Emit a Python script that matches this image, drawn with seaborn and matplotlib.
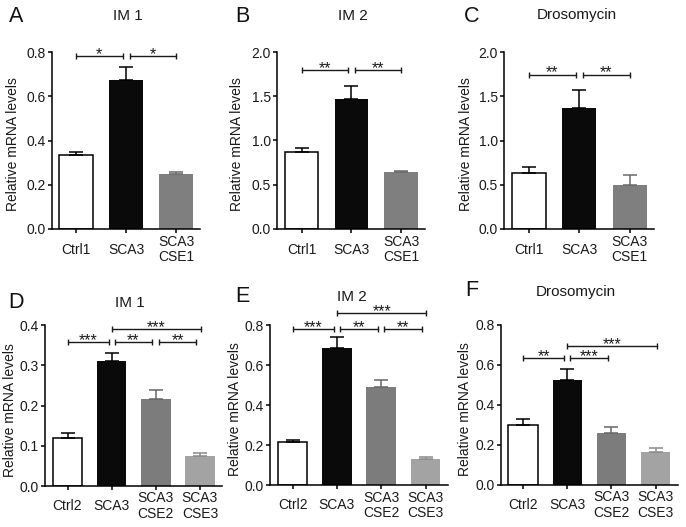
import matplotlib
matplotlib.use('Agg')
import matplotlib.pyplot as plt
import seaborn as sns
import pandas as pd

sns.set_theme(style='ticks')
plt.rcParams['font.family'] = ['Liberation Sans', 'DejaVu Sans']

# ---------------- data ----------------
groups_top = ['Ctrl1', 'SCA3', 'SCA3\nCSE1']
groups_bottom = ['Ctrl2', 'SCA3', 'SCA3\nCSE2', 'SCA3\nCSE3']

a_mean = [0.334, 0.673, 0.250]
a_err = [0.013, 0.058, 0.009]
b_mean = [0.866, 1.471, 0.639]
b_err = [0.053, 0.140, 0.019]
c_mean = [0.637, 1.363, 0.497]
c_err = [0.060, 0.211, 0.109]
d_mean = [0.119, 0.310, 0.217, 0.0755]
d_err = [0.013, 0.022, 0.021, 0.0075]
e_mean = [0.217, 0.687, 0.493, 0.130]
e_err = [0.011, 0.056, 0.032, 0.010]
f_mean = [0.298, 0.523, 0.262, 0.163]
f_err = [0.030, 0.059, 0.026, 0.024]

a_sig = [(0, 0.93, 0.780, '*'), (1.07, 2.0, 0.780, '*')]
b_sig = [(0, 0.93, 1.80, '**'), (1.07, 2.0, 1.80, '**')]
c_sig = [(0, 0.93, 1.745, '**'), (1.07, 2.0, 1.745, '**')]
d_sig = [(0, 0.93, 0.3585, '***'), (1.07, 1.92, 0.3585, '**'),
         (2.07, 2.92, 0.3585, '**'), (1.0, 3.02, 0.390, '***')]
e_sig = [(0, 0.93, 0.780, '***'), (1.07, 1.92, 0.780, '**'),
         (2.07, 2.92, 0.780, '**'), (1.0, 3.02, 0.863, '***')]
f_sig = [(0, 0.93, 0.633, '**'), (1.07, 1.92, 0.633, '***'),
         (1.0, 3.02, 0.697, '***')]

colors_top = ['#ffffff', '#0a0a0a', '#7f7f7f']
colors_bottom = ['#ffffff', '#0a0a0a', '#7c7c7c', '#a3a3a3']
err_top = ['#000000', '#000000', '#6a6a6a']
err_bottom = ['#000000', '#000000', '#666666', '#8a8a8a']

W, H = 686, 527
fig = plt.figure(figsize=(W / 100, H / 100), dpi=100)


def px_axes(l, r, t, b):
    return fig.add_axes([l / W, (H - b) / H, (r - l) / W, (b - t) / H])


panels = [
    dict(box=(51.7, 200, 52, 229), groups=groups_top, mean=a_mean, err=a_err, sig=a_sig,
         colors=colors_top, ecol=err_top, ylim=0.8, ticks=[0, 0.2, 0.4, 0.6, 0.8],
         letter='A', lxy=(16, 16), title='IM 1', txy=(128, 16), ylx=13, pad=12.0),
    dict(box=(277.3, 425, 52, 228.7), groups=groups_top, mean=b_mean, err=b_err, sig=b_sig,
         colors=colors_top, ecol=err_top, ylim=2.0, ticks=[0, 0.5, 1.0, 1.5, 2.0],
         letter='B', lxy=(242, 16), title='IM 2', txy=(352.7, 16), ylx=237, pad=12.0),
    dict(box=(504, 654, 52, 229), groups=groups_top, mean=c_mean, err=c_err, sig=c_sig,
         colors=colors_top, ecol=err_top, ylim=2.0, ticks=[0, 0.5, 1.0, 1.5, 2.0],
         letter='C', lxy=(472, 16), title='Drosomycin', txy=(576.7, 15), ylx=466, pad=12.0),
    dict(box=(45, 222, 325.3, 486), groups=groups_bottom, mean=d_mean, err=d_err, sig=d_sig,
         colors=colors_bottom, ecol=err_bottom, ylim=0.4, ticks=[0, 0.1, 0.2, 0.3, 0.4],
         letter='D', lxy=(16, 302), title='IM 1', txy=(130, 303), ylx=10.5, pad=11.4),
    dict(box=(270, 447.7, 325.3, 485.3), groups=groups_bottom, mean=e_mean, err=e_err, sig=e_sig,
         colors=colors_bottom, ecol=err_bottom, ylim=0.8, ticks=[0, 0.2, 0.4, 0.6, 0.8],
         letter='E', lxy=(242, 297), title='IM 2', txy=(352, 297), ylx=235, pad=11.4),
    dict(box=(500.7, 677.7, 325, 485), groups=groups_bottom, mean=f_mean, err=f_err, sig=f_sig,
         colors=colors_bottom, ecol=err_bottom, ylim=0.8, ticks=[0, 0.2, 0.4, 0.6, 0.8],
         letter='F', lxy=(472, 291), title='Drosomycin', txy=(576, 292), ylx=465, pad=11.4),
]

LW = 1.1
for p in panels:
    l, r, t, b = p['box']
    ax = px_axes(l, r, t, b)
    n = len(p['groups'])
    df = pd.DataFrame({'group': p['groups'], 'value': p['mean']})
    sns.barplot(data=df, x='group', y='value', hue='group', order=p['groups'],
                hue_order=p['groups'], palette=p['colors'], legend=False,
                errorbar=None, width=0.67, saturation=1, ax=ax)
    for i, patch in enumerate(ax.patches):
        if i == 0:
            patch.set_edgecolor('black')
            patch.set_linewidth(LW)
        else:
            patch.set_edgecolor(p['colors'][i])
            patch.set_linewidth(0)
    for i in range(n):
        ax.errorbar(i, p['mean'][i], yerr=[[0], [p['err'][i]]], color=p['ecol'][i],
                    capsize=4.8, elinewidth=LW, capthick=LW, zorder=1, fmt='none')
    for (x1, x2, y, s) in p['sig']:
        ax.plot([x1, x2], [y, y], color='#1a1a1a', lw=1.0, marker='|', markersize=5,
                mew=1.0, clip_on=False, zorder=5)
        ax.annotate(s, xy=((x1 + x2) / 2, y), xytext=(0, -2.2), textcoords='offset points',
                    ha='center', va='baseline', fontsize=11.5, color='#1a1a1a',
                    annotation_clip=False)
    if n == 3:
        ax.set_xlim(-0.49, 2.48)
    else:
        ax.set_xlim(-0.51, 3.5)
    ax.set_ylim(0, p['ylim'])
    ax.set_yticks(p['ticks'])
    ax.set_yticklabels([f'{v:.1f}' for v in p['ticks']])
    ax.set_xticks(range(n))
    ax.set_xticklabels(p['groups'], va='center', linespacing=1.1)
    ax.set_xlabel('')
    ax.set_ylabel('')
    sns.despine(ax=ax)
    for sp in ['left', 'bottom']:
        ax.spines[sp].set_linewidth(LW)
        ax.spines[sp].set_color('black')
    ax.tick_params(axis='both', direction='out', length=3, width=LW, color='black',
                   labelsize=10, labelcolor='#1a1a1a')
    ax.tick_params(axis='x', pad=p['pad'])
    ax.tick_params(axis='y', pad=1.5)
    ax.set_facecolor('none')

    fig.text(p['lxy'][0] / W, 1 - p['lxy'][1] / H, p['letter'], fontsize=15.5,
             ha='center', va='center', color='#111111')
    fig.text(p['txy'][0] / W, 1 - p['txy'][1] / H, p['title'], fontsize=11,
             ha='center', va='center', color='#1a1a1a')
    fig.text(p['ylx'] / W, 1 - ((t + b) / 2 + 4) / H, 'Relative mRNA levels',
             fontsize=10, rotation=90, ha='center', va='center', color='#1a1a1a')

fig.savefig('out.png', dpi=100, facecolor='white')
